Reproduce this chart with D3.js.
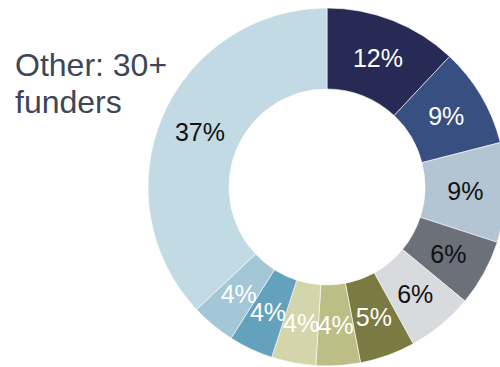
<!DOCTYPE html>
<html>
<head>
<meta charset="utf-8">
<script src="https://cdn.jsdelivr.net/npm/d3@7"></script>
<style>
  html, body { margin: 0; padding: 0; background: #fff; }
  svg { display: block; }
</style>
</head>
<body>
<svg id="chart" width="500" height="367"></svg>
<script>
// Funding share by funder, clockwise from 12 o'clock
const funders = ["F1", "F2", "F3", "F4", "F5", "F6", "F7", "F8", "F9", "F10", "Other"];
const shares = [12, 9, 9, 6, 6, 5, 4, 4, 4, 4, 37];
const sliceColors = ["#262a55", "#384f82", "#b3c4d3", "#6b7079", "#d9dadd",
                     "#7b7a42", "#bdbd86", "#d5d5ab", "#63a1bc", "#a3c7d7", "#c2dae4"];
const labelColors = ["#ffffff", "#ffffff", "#111111", "#111111", "#111111",
                     "#ffffff", "#ffffff", "#ffffff", "#ffffff", "#ffffff", "#111111"];
const titleLines = ["Other: 30+", "funders"];

const svg = d3.select("#chart");
const cx = 327, cy = 187, outerR = 179, innerR = 98;

const data = funders.map((f, i) => ({ name: f, value: shares[i], fill: sliceColors[i], text: labelColors[i] }));

const pie = d3.pie().sort(null).value(d => d.value);
const arc = d3.arc().innerRadius(innerR).outerRadius(outerR);

const g = svg.append("g").attr("transform", `translate(${cx},${cy})`);
const arcs = pie(data);

g.selectAll("path.slice")
  .data(arcs)
  .join("path")
  .attr("class", "slice")
  .attr("d", arc)
  .attr("fill", d => d.data.fill)
  .attr("stroke", "#ffffff")
  .attr("stroke-width", 0.6);

g.selectAll("text.pct")
  .data(arcs)
  .join("text")
  .attr("class", "pct")
  .attr("transform", d => `translate(${arc.centroid(d)})`)
  .attr("text-anchor", "middle")
  .attr("dy", "0.36em")
  .attr("font-family", "'Liberation Sans', Arial, sans-serif")
  .attr("font-size", 25)
  .attr("fill", d => d.data.text)
  .text(d => d.data.value + "%");

svg.append("text")
  .attr("x", 15)
  .attr("y", 76)
  .attr("font-family", "'Liberation Sans', Arial, sans-serif")
  .attr("font-size", 32)
  .attr("fill", "#3b4759")
  .selectAll("tspan")
  .data(titleLines)
  .join("tspan")
  .attr("x", 15)
  .attr("dy", (d, i) => i === 0 ? 0 : 37)
  .text(d => d);
</script>
</body>
</html>
